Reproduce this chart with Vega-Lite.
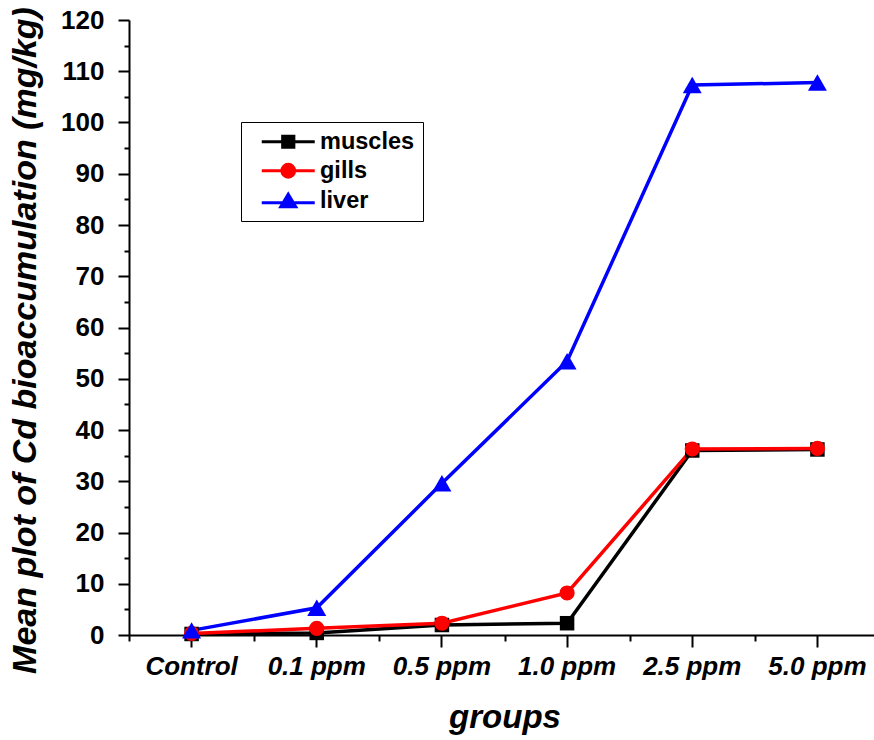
{
  "$schema": "https://vega.github.io/schema/vega-lite/v6.json",
  "autosize": {"type": "none"},
  "padding": {"left": 129, "top": 20, "right": 0, "bottom": 105},
  "width": 751,
  "height": 615,
  "background": "white",
  "config": {
    "view": {"stroke": null},
    "axis": {
      "grid": false,
      "domainColor": "black",
      "tickColor": "black",
      "labelColor": "black",
      "titleColor": "black",
      "domainWidth": 2,
      "tickWidth": 2,
      "labelFont": "Liberation Sans",
      "titleFont": "Liberation Sans"
    },
    "legend": {
      "orient": "none",
      "legendX": 112,
      "legendY": 102,
      "strokeColor": "black",
      "fillColor": "white",
      "padding": 8,
      "symbolSize": 400,
      "symbolStrokeWidth": 3,
      "symbolOffset": 27.5,
      "labelFont": "Liberation Sans",
      "labelFontWeight": "bold",
      "labelFontSize": 23.5,
      "labelColor": "black",
      "labelOffset": 20,
      "rowPadding": 4
    }
  },
  "data": {
    "values": [
      {"group": "Control", "series": "muscles", "value": 0.2},
      {"group": "0.1 ppm", "series": "muscles", "value": 0.4},
      {"group": "0.5 ppm", "series": "muscles", "value": 1.95},
      {"group": "1.0 ppm", "series": "muscles", "value": 2.3},
      {"group": "2.5 ppm", "series": "muscles", "value": 36.0},
      {"group": "5.0 ppm", "series": "muscles", "value": 36.2},
      {"group": "Control", "series": "gills", "value": 0.3},
      {"group": "0.1 ppm", "series": "gills", "value": 1.3},
      {"group": "0.5 ppm", "series": "gills", "value": 2.3},
      {"group": "1.0 ppm", "series": "gills", "value": 8.2},
      {"group": "2.5 ppm", "series": "gills", "value": 36.3},
      {"group": "5.0 ppm", "series": "gills", "value": 36.4},
      {"group": "Control", "series": "liver", "value": 0.9},
      {"group": "0.1 ppm", "series": "liver", "value": 5.3},
      {"group": "0.5 ppm", "series": "liver", "value": 29.6},
      {"group": "1.0 ppm", "series": "liver", "value": 53.4},
      {"group": "2.5 ppm", "series": "liver", "value": 107.3},
      {"group": "5.0 ppm", "series": "liver", "value": 107.8}
    ]
  },
  "layer": [
    {
      "mark": {"type": "line", "strokeWidth": 3.5},
      "encoding": {
        "x": {
          "field": "group",
          "type": "nominal",
          "sort": ["Control", "0.1 ppm", "0.5 ppm", "1.0 ppm", "2.5 ppm", "5.0 ppm"],
          "scale": {"type": "band", "paddingInner": 0, "paddingOuter": 0},
          "axis": {
            "orient": "bottom",
            "title": "groups",
            "titleFontSize": 33,
            "titleFontWeight": "bold",
            "titleFontStyle": "italic",
            "titlePadding": 22,
            "tickSize": 12,
            "labelPadding": 6,
            "labelAngle": 0,
            "labelFontSize": 26,
            "labelFontWeight": "bold",
            "labelFontStyle": "italic",
            "labelOverlap": false
          }
        },
        "y": {
          "field": "value",
          "type": "quantitative",
          "scale": {"domain": [0, 120], "nice": false},
          "axis": {
            "orient": "left",
            "title": "Mean plot of Cd bioaccumulation (mg/kg)",
            "titleFontSize": 34,
            "titleFontWeight": "bold",
            "titleFontStyle": "italic",
            "titlePadding": 18,
            "titleY": 320,
            "values": [0, 10, 20, 30, 40, 50, 60, 70, 80, 90, 100, 110, 120],
            "tickSize": 11,
            "labelPadding": 14,
            "labelFontSize": 26,
            "labelFontWeight": "bold"
          }
        },
        "color": {
          "field": "series",
          "type": "nominal",
          "scale": {"domain": ["muscles", "gills", "liver"], "range": ["#000000", "#ff0000", "#0000ff"]},
          "legend": null
        }
      }
    },
    {
      "transform": [{"filter": "datum.series === 'muscles'"}],
      "mark": {"type": "point", "filled": true, "opacity": 1, "shape": "square", "size": 210},
      "encoding": {
        "x": {
          "field": "group",
          "type": "nominal",
          "sort": ["Control", "0.1 ppm", "0.5 ppm", "1.0 ppm", "2.5 ppm", "5.0 ppm"],
          "axis": {
            "orient": "bottom",
            "title": null,
            "labels": false,
            "domain": false,
            "tickBand": "extent",
            "tickSize": 6
          }
        },
        "y": {
          "field": "value",
          "type": "quantitative",
          "axis": {
            "orient": "left",
            "title": null,
            "labels": false,
            "domain": false,
            "values": [5, 15, 25, 35, 45, 55, 65, 75, 85, 95, 105, 115],
            "tickSize": 5
          }
        },
        "color": {"field": "series", "type": "nominal", "legend": null}
      }
    },
    {
      "transform": [{"filter": "datum.series === 'gills'"}],
      "mark": {"type": "point", "filled": true, "opacity": 1, "shape": "circle", "size": 230},
      "encoding": {
        "x": {"field": "group", "type": "nominal", "sort": ["Control", "0.1 ppm", "0.5 ppm", "1.0 ppm", "2.5 ppm", "5.0 ppm"], "axis": null},
        "y": {"field": "value", "type": "quantitative", "axis": null},
        "color": {"field": "series", "type": "nominal", "legend": null}
      }
    },
    {
      "transform": [{"filter": "datum.series === 'liver'"}],
      "mark": {"type": "point", "filled": true, "opacity": 1, "shape": "triangle-up", "size": 360},
      "encoding": {
        "x": {"field": "group", "type": "nominal", "sort": ["Control", "0.1 ppm", "0.5 ppm", "1.0 ppm", "2.5 ppm", "5.0 ppm"], "axis": null},
        "y": {"field": "value", "type": "quantitative", "axis": null},
        "color": {"field": "series", "type": "nominal", "legend": null}
      }
    },
    {
      "transform": [{"filter": "datum.value < 0"}],
      "mark": {"type": "point", "filled": true, "opacity": 1, "strokeWidth": 3},
      "encoding": {
        "fill": {
          "field": "series",
          "type": "nominal",
          "scale": {"domain": ["muscles", "gills", "liver"], "range": ["#000000", "#ff0000", "#0000ff"]},
          "legend": {"title": null}
        },
        "stroke": {
          "field": "series",
          "type": "nominal",
          "scale": {"domain": ["muscles", "gills", "liver"], "range": ["#000000", "#ff0000", "#0000ff"]},
          "legend": {"title": null}
        },
        "shape": {
          "field": "series",
          "type": "nominal",
          "scale": {
            "domain": ["muscles", "gills", "liver"],
            "range": [
              "M-2.65,0H2.65M-0.56,-0.56H0.56V0.56H-0.56Z",
              "M-2.65,0H2.65M-0.64,0A0.64,0.64,0,1,0,0.64,0A0.64,0.64,0,1,0,-0.64,0Z",
              "M-2.65,0.2H2.65M0,-0.65L0.75,0.6H-0.75Z"
            ]
          },
          "legend": {"title": null}
        }
      }
    }
  ],
  "resolve": {
    "scale": {"fill": "independent", "stroke": "independent", "shape": "independent"},
    "axis": {"x": "independent", "y": "independent"}
  }
}
